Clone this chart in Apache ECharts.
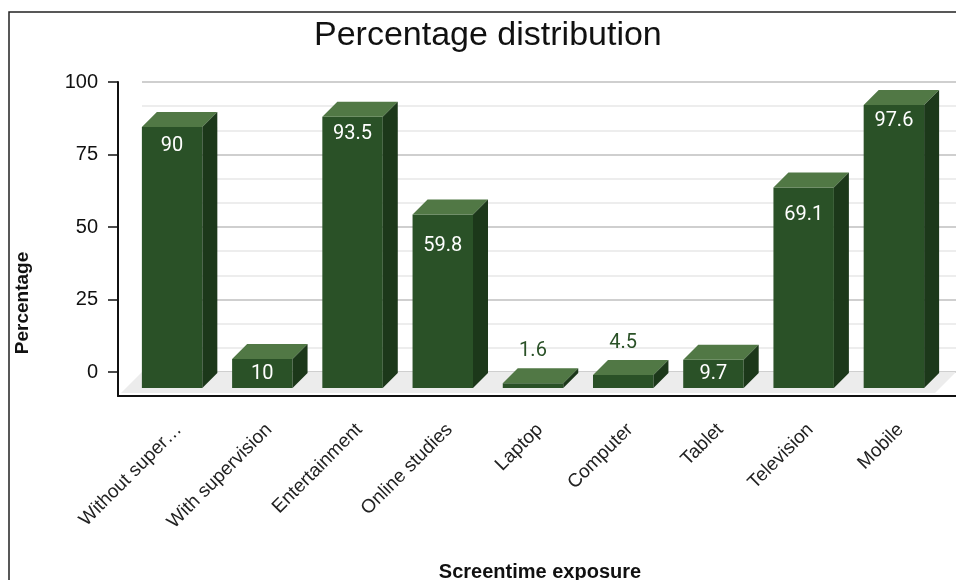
<!DOCTYPE html>
<html>
<head>
<meta charset="utf-8">
<title>Percentage distribution</title>
<script src="https://cdn.jsdelivr.net/npm/echarts@6/dist/echarts.min.js"></script>
<style>
  html, body { margin: 0; padding: 0; background: #fff; }
  #chart { width: 956px; height: 580px; }
</style>
</head>
<body>
<div id="chart"></div>
<script>
  // data
  var categories = ['Without supervision', 'With supervision', 'Entertainment', 'Online studies',
    'Laptop', 'Computer', 'Tablet', 'Television', 'Mobile'];
  var values = [90, 10, 93.5, 59.8, 1.6, 4.5, 9.7, 69.1, 97.6];
  var yTicks = [0, 25, 50, 75, 100];

  var DEPTH = 15;       // bar depth offset
  var FLOOR = 21;       // floor depth
  var FRONT = '#2a5127', TOP = '#517845', SIDE = '#1c381a';
  // the frame axis reaches below the back wall zero line by the floor depth
  var FRAME_MIN = -24 / 2.9;

  var chart = echarts.init(document.getElementById('chart'));

  function renderFloor(params, api) {
    var cs = params.coordSys;
    var x0 = cs.x, x1 = cs.x + cs.width, y = cs.y + cs.height;
    return {
      type: 'polygon',
      shape: { points: [[x0, y], [x1, y], [x1 - FLOOR, y + FLOOR], [x0 - FLOOR, y + FLOOR]] },
      style: { fill: '#ececec' }
    };
  }

  function renderBar(params, api) {
    var i = api.value(0), v = api.value(1);
    var base = api.coord([i, 0]);
    var top = api.coord([i, v]);
    var w = api.size([1, 0])[0] * 0.67;
    var x0 = base[0] - w / 2, x1 = base[0] + w / 2;
    var yb = base[1], yt = top[1];
    var d = DEPTH;
    var h = yb - yt;
    var label;
    if (h > 40) {
      // inside end, sinks a little deeper on shorter bars
      label = { x: base[0], y: yt + 15 + 0.4 * (100 - v), fill: '#fff' };
    } else if (h > 20) {
      label = { x: base[0], y: (yt + yb) / 2, fill: '#fff' };
    } else {
      label = { x: base[0], y: yt - d - 17, fill: FRONT };
    }
    return {
      type: 'group',
      children: [
        { type: 'rect', shape: { x: x0, y: yt, width: w, height: h }, style: { fill: FRONT } },
        { type: 'polygon', shape: { points: [[x0, yt], [x1, yt], [x1 + d, yt - d], [x0 + d, yt - d]] }, style: { fill: TOP } },
        { type: 'polygon', shape: { points: [[x1, yt], [x1 + d, yt - d], [x1 + d, yb - d], [x1, yb]] }, style: { fill: SIDE } },
        {
          type: 'text',
          style: {
            text: String(v), x: label.x, y: label.y, fill: label.fill,
            font: '20px Roboto', align: 'center', verticalAlign: 'middle'
          }
        }
      ]
    };
  }

  var tickStyle = { color: '#111', width: 1.5 };

  var option = {
    animation: false,
    title: {
      text: 'Percentage distribution',
      left: 314, top: 19, padding: 0,
      textStyle: { fontFamily: 'Liberation Sans', fontSize: 34, fontWeight: 'normal', color: '#111' }
    },
    graphic: [
      {
        type: 'rect', z: -10, silent: true,
        shape: { x: 9, y: 12, width: 2000, height: 2000 },
        style: { fill: 'none', stroke: '#222', lineWidth: 1.5 }
      },
      {
        type: 'text', x: 23, y: 303, rotation: Math.PI / 2,
        style: {
          text: 'Percentage', font: 'bold 19px Liberation Sans', fill: '#111',
          align: 'center', verticalAlign: 'middle'
        }
      }
    ],
    grid: [
      // back wall
      { left: 142, right: 0, top: 82, bottom: 208, outerBoundsMode: 'none' },
      // front plane of the bars
      { left: 127, right: 17, top: 98, bottom: 192, outerBoundsMode: 'none' },
      // axis frame
      { left: 118, right: 0, top: 82, bottom: 184, outerBoundsMode: 'none' }
    ],
    xAxis: [
      { gridIndex: 0, type: 'value', show: false },
      {
        gridIndex: 1, type: 'category', data: categories, offset: 8,
        axisLine: { show: false },
        axisTick: { alignWithLabel: true, length: 10, lineStyle: tickStyle },
        axisLabel: {
          interval: 0, rotate: 45, margin: 24, color: '#222',
          verticalAlign: 'top',
          fontFamily: 'Liberation Sans', fontSize: 19,
          width: 141, overflow: 'truncate', ellipsis: '…'
        },
        name: 'Screentime exposure', nameLocation: 'middle', nameGap: 166,
        nameTextStyle: { fontFamily: 'Liberation Sans', fontSize: 20, fontWeight: 'bold', color: '#111', padding: [0, 0, 0, 14] }
      },
      {
        gridIndex: 1, type: 'category', data: categories, offset: 8, z: 3,
        axisLine: { show: false },
        axisTick: { inside: true, alignWithLabel: true, length: 10, lineStyle: tickStyle },
        axisLabel: { show: false }
      },
      {
        gridIndex: 2, type: 'value', min: 0, max: 1,
        axisLine: { show: true, onZero: false, lineStyle: { color: '#111', width: 2 } },
        axisTick: { show: false }, axisLabel: { show: false }, splitLine: { show: false }
      }
    ],
    yAxis: [
      {
        gridIndex: 0, type: 'value', min: 0, max: 100, interval: 25,
        axisLine: { show: false }, axisTick: { show: false }, axisLabel: { show: false },
        splitLine: { show: true, lineStyle: { color: '#cfcfcf', width: 2 } },
        minorTick: { show: false, splitNumber: 3 },
        minorSplitLine: { show: true, lineStyle: { color: '#e8e8e8', width: 1.5 } }
      },
      { gridIndex: 1, type: 'value', min: 0, max: 100, show: false },
      {
        gridIndex: 2, type: 'value', min: FRAME_MIN, max: 100,
        axisLine: { show: true, onZero: false, lineStyle: { color: '#111', width: 2 } },
        axisTick: { show: true, length: 10, customValues: yTicks, lineStyle: tickStyle },
        axisLabel: { customValues: yTicks, margin: 20, color: '#111', fontFamily: 'Liberation Sans', fontSize: 20 },
        splitLine: { show: false }
      },
      {
        gridIndex: 2, type: 'value', min: FRAME_MIN, max: 100,
        axisLine: { show: false },
        axisTick: { show: true, inside: true, length: 10, customValues: yTicks, lineStyle: tickStyle },
        axisLabel: { show: false }, splitLine: { show: false }
      }
    ],
    series: [
      {
        type: 'custom', name: 'floor', xAxisIndex: 0, yAxisIndex: 0, z: 1,
        renderItem: renderFloor, data: [[0, 0]], silent: true
      },
      {
        type: 'custom', name: 'Percentage', xAxisIndex: 1, yAxisIndex: 1, z: 5,
        renderItem: renderBar,
        data: values.map(function (v, i) { return [i, v]; })
      }
    ]
  };

  chart.setOption(option);
</script>
</body>
</html>
